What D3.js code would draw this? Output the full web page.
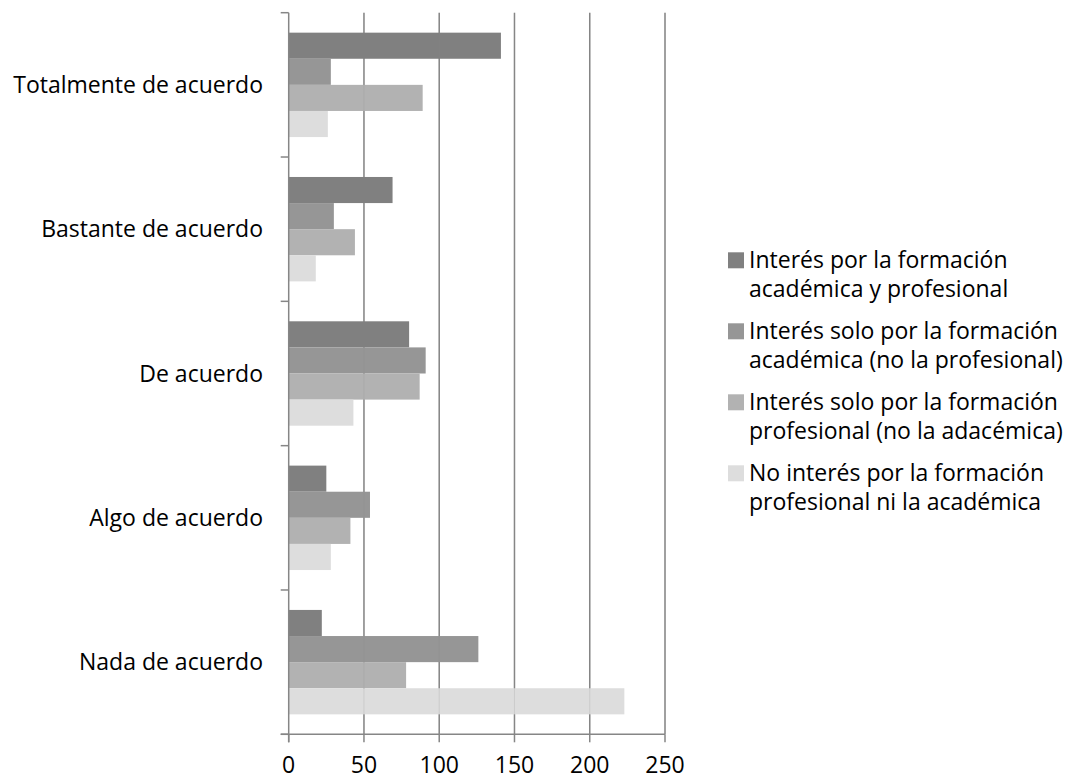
<!DOCTYPE html>
<html>
<head>
<meta charset="utf-8">
<script src="https://cdn.jsdelivr.net/npm/d3@7"></script>
<style>
  html, body { margin: 0; padding: 0; background: #fff; }
  svg { display: block; }
  text { font-family: "Open Sans", Lato, sans-serif; fill: #000; }
</style>
</head>
<body>
<svg id="chart" width="1073" height="780"></svg>
<script>
// Response categories, top to bottom
const categories = ["Totalmente de acuerdo", "Bastante de acuerdo", "De acuerdo", "Algo de acuerdo", "Nada de acuerdo"];

// Series names (legend, two lines each) and their counts per category
const seriesNames = [
  ["Interés por la formación", "académica y profesional"],
  ["Interés solo por la formación", "académica (no la profesional)"],
  ["Interés solo por la formación", "profesional (no la adacémica)"],
  ["No interés por la formación", "profesional ni la académica"]
];
const academicaYProfesional = [141, 69, 80, 25, 22];
const soloAcademica        = [28, 30, 91, 54, 126];
const soloProfesional      = [89, 44, 87, 41, 78];
const ninguna              = [26, 18, 43, 28, 223];
const seriesValues = [academicaYProfesional, soloAcademica, soloProfesional, ninguna];

const xTicks = [0, 50, 100, 150, 200, 250];
const colors = ["#808080", "#969696", "#b2b2b2", "#dddddd"];

const svg = d3.select("#chart");
const plotLeft = 288.7, plotRight = 665, plotTop = 12.7, plotBottom = 734.3;
const fontSize = "23px";

const x = d3.scaleLinear().domain([0, 250]).range([plotLeft, plotRight]);
const y = d3.scaleBand().domain(categories).range([plotTop, plotBottom])
  .paddingInner(0.2765).paddingOuter(0.13825);
const ySeries = d3.scaleBand().domain(d3.range(seriesValues.length)).range([0, y.bandwidth()]);

const gridColor = "#868686";

// Vertical gridlines
svg.append("g").selectAll("line").data(xTicks.slice(1)).join("line")
  .attr("x1", d => x(d)).attr("x2", d => x(d))
  .attr("y1", plotTop).attr("y2", plotBottom)
  .attr("stroke", gridColor).attr("stroke-width", 1.5);

// Bars
const rows = categories.map((c, i) => ({ c, vals: seriesValues.map(s => s[i]) }));
const groups = svg.append("g").selectAll("g").data(rows).join("g")
  .attr("transform", d => `translate(0,${y(d.c)})`);
groups.selectAll("rect").data(d => d.vals.map((v, k) => ({ v, k }))).join("rect")
  .attr("x", x(0))
  .attr("y", d => ySeries(d.k))
  .attr("width", d => x(d.v) - x(0))
  .attr("height", ySeries.bandwidth())
  .attr("fill", d => colors[d.k]);

// Faint gridline show-through on top of bars
svg.append("g").selectAll("line").data(xTicks.slice(1)).join("line")
  .attr("x1", d => x(d)).attr("x2", d => x(d))
  .attr("y1", plotTop).attr("y2", plotBottom)
  .attr("stroke", gridColor).attr("stroke-width", 1).attr("stroke-opacity", 0.2);

// Y axis line and category ticks at band boundaries
const yBounds = d3.range(categories.length + 1).map(i => plotTop + i * y.step());
svg.append("line").attr("x1", plotLeft).attr("x2", plotLeft).attr("y1", plotTop).attr("y2", plotBottom + 8)
  .attr("stroke", gridColor).attr("stroke-width", 1.5);
svg.append("g").selectAll("line").data(yBounds).join("line")
  .attr("x1", plotLeft - 8).attr("x2", plotLeft).attr("y1", d => d).attr("y2", d => d)
  .attr("stroke", gridColor).attr("stroke-width", 1.5);

// X axis line and ticks
svg.append("line").attr("x1", plotLeft - 8).attr("x2", plotRight).attr("y1", plotBottom).attr("y2", plotBottom)
  .attr("stroke", gridColor).attr("stroke-width", 1.5);
svg.append("g").selectAll("line").data(xTicks).join("line")
  .attr("x1", d => x(d)).attr("x2", d => x(d)).attr("y1", plotBottom).attr("y2", plotBottom + 8)
  .attr("stroke", gridColor).attr("stroke-width", 1.5);

// X tick labels
svg.append("g").selectAll("text").data(xTicks).join("text")
  .attr("x", d => x(d)).attr("y", 772.5)
  .attr("text-anchor", "middle")
  .style("font-size", fontSize)
  .text(d => d);

// Category labels
svg.append("g").selectAll("text").data(categories).join("text")
  .attr("x", 263).attr("y", d => y(d) + y.bandwidth() / 2)
  .attr("dy", "0.35em")
  .attr("text-anchor", "end")
  .style("font-size", fontSize)
  .text(d => d);

// Legend: swatch plus two separate text lines per series
const legend = svg.append("g").selectAll("g").data(seriesNames).join("g")
  .attr("transform", (d, i) => `translate(728,${252.3 + i * 71})`);
legend.append("rect").attr("width", 16).attr("height", 16)
  .attr("fill", (d, i) => colors[i]);
legend.selectAll("text").data(d => d).join("text")
  .attr("x", 21).attr("y", (d, i) => 16 + i * 28.5)
  .style("font-size", fontSize)
  .text(d => d);
</script>
</body>
</html>
